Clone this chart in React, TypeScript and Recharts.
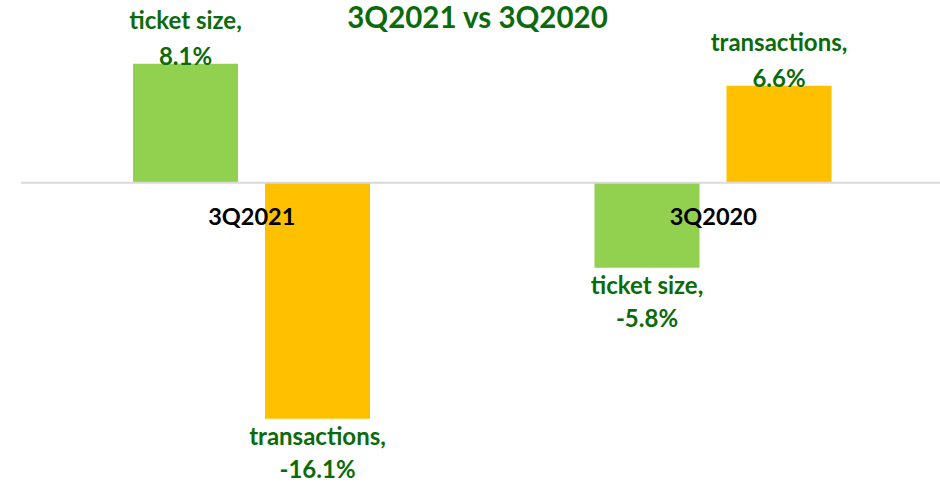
import { Bar, BarChart, LabelList, ReferenceDot, ReferenceLine, XAxis, YAxis } from "recharts";

const periods = ["3Q2021", "3Q2020"];
const ticketSize = [8.1, -5.8];
const transactions = [-16.1, 6.6];

const data = periods.map((period, i) => ({
  period,
  ticket: ticketSize[i],
  transactions: transactions[i],
}));

const textGreen = "#0b6b0b";
const font = "Lato, 'Open Sans', sans-serif";

function makeLabel(name: string) {
  return (props: any) => {
    const { x, y, width, height, value } = props;
    const cx = Number(x) + Number(width) / 2;
    const top = Math.min(Number(y), Number(y) + Number(height));
    const bottom = Math.max(Number(y), Number(y) + Number(height));
    const positive = Number(value) >= 0;
    const y1 = positive ? top - 35 : bottom + 26;
    const y2 = positive ? top + 1 : bottom + 59;
    return (
      <g>
        <text x={cx} y={y1} textAnchor="middle" fill={textGreen} fontSize={24} fontWeight={700} fontFamily={font}>
          {name}
        </text>
        <text x={cx} y={y2} textAnchor="middle" fill={textGreen} fontSize={24} fontWeight={700} fontFamily={font}>
          {Number(value).toFixed(1)}%
        </text>
      </g>
    );
  };
}

function categoryLabel(text: string) {
  return (props: any) => (
    <text x={props.cx} y={Number(props.cy) + 42} textAnchor="middle" fill="#000" fontSize={23.5} fontWeight={700} fontFamily={font}>
      {text}
    </text>
  );
}

export default function App() {
  return (
    <div style={{ position: "absolute", left: 0, top: 0, width: 940, height: 482, overflow: "hidden", background: "#fff" }}>
      <div
        style={{
          position: "absolute",
          left: 0,
          top: 2,
          width: 955,
          textAlign: "center",
          fontFamily: font,
          fontWeight: 700,
          fontSize: 29.5,
          lineHeight: "30px",
          color: textGreen,
        }}
      >
        3Q2021 vs 3Q2020
      </div>
      <BarChart
        width={944}
        height={482}
        data={data}
        margin={{ top: 36, right: 0, bottom: 6, left: 21 }}
        barGap={27}
      >
        <XAxis dataKey="period" hide />
        <YAxis hide domain={[-20, 10]} allowDataOverflow />
        <ReferenceLine y={0} stroke="#d9d9d9" strokeWidth={2} />
        <Bar dataKey="ticket" fill="#92d050" barSize={105} isAnimationActive={false}>
          <LabelList dataKey="ticket" content={makeLabel("ticket size,")} />
        </Bar>
        <Bar dataKey="transactions" fill="#ffc000" barSize={105} isAnimationActive={false}>
          <LabelList dataKey="transactions" content={makeLabel("transactions,")} />
        </Bar>
        {periods.map((p) => (
          <ReferenceDot key={p} x={p} y={0} r={0} shape={categoryLabel(p)} />
        ))}
      </BarChart>
    </div>
  );
}
